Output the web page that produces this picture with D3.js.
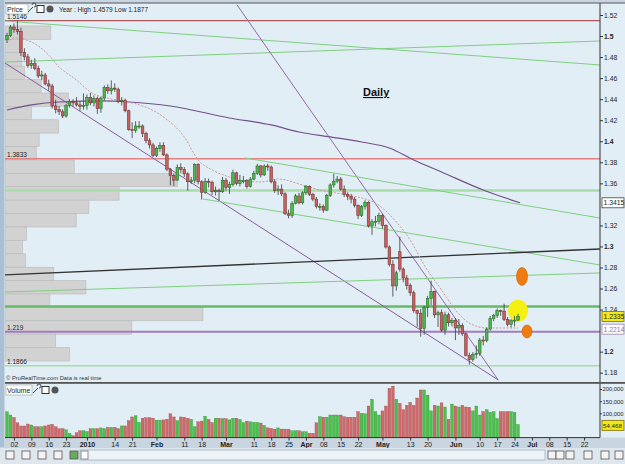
<!DOCTYPE html>
<html>
<head>
<meta charset="utf-8">
<script src="https://cdn.jsdelivr.net/npm/d3@7"></script>
<style>
body { margin: 0; background: #fff; }
svg { display: block; font-family: "Liberation Sans", Arial, sans-serif; }
</style>
</head>
<body>
<div class="chart"></div>
<script>
//Width and height
var w = 625;
var h = 464;

//Daily candles, Nov 30 2009 - Jun 25 2010 (index = trading day)
var opens = [1.4965,1.5005,1.5085,1.5062,1.5045,1.4845,1.4802,1.4720,1.4740,1.4690,1.4620,1.4630,1.4545,1.4525,1.4335,1.4300,1.4280,1.4240,1.4340,1.4375,
  1.4365,1.4345,1.4330,1.4340,1.4415,1.4365,1.4405,1.4310,1.4410,1.4510,1.4480,1.4505,1.4495,1.4380,1.4390,1.4290,1.4110,1.4105,1.4145,1.4145,
  1.4075,1.4005,1.3965,1.3865,1.3930,1.3960,1.3870,1.3735,1.3675,1.3630,1.3750,1.3730,1.3690,1.3615,1.3630,1.3780,1.3615,1.3515,1.3620,1.3610,
  1.3520,1.3530,1.3520,1.3630,1.3560,1.3590,1.3700,1.3600,1.3625,1.3625,1.3570,1.3640,1.3695,1.3765,1.3680,1.3765,1.3755,1.3615,1.3530,1.3545,
  1.3500,1.3310,1.3295,1.3410,1.3480,1.3415,1.3510,1.3570,1.3495,1.3450,1.3380,1.3380,1.3345,1.3485,1.3585,1.3620,1.3640,1.3545,1.3495,1.3475,
  1.3450,1.3390,1.3295,1.3380,1.3420,1.3195,1.3235,1.3240,1.3295,1.3200,1.2995,1.2830,1.2625,1.2950,1.2785,1.2700,1.2630,1.2560,1.2390,1.2365,
  1.2220,1.2420,1.2505,1.2570,1.2350,1.2370,1.2205,1.2350,1.2275,1.2295,1.2225,1.2250,1.2170,1.1965,1.1925,1.1975,1.1985,1.2110,1.2105,1.2215,
  1.2315,1.2345,1.2390,1.2385,1.2305,1.2260,1.2295,1.2300];
var highs = [1.5030,1.5105,1.5120,1.5146,1.5080,1.4885,1.4830,1.4775,1.4790,1.4720,1.4670,1.4650,1.4585,1.4545,1.4395,1.4335,1.4305,1.4355,1.4400,1.4400,
  1.4420,1.4380,1.4455,1.4445,1.4460,1.4435,1.4425,1.4420,1.4530,1.4540,1.4579,1.4550,1.4510,1.4420,1.4405,1.4300,1.4180,1.4190,1.4190,1.4160,
  1.4090,1.4030,1.3985,1.3950,1.3990,1.3990,1.3885,1.3745,1.3690,1.3780,1.3790,1.3755,1.3705,1.3660,1.3790,1.3790,1.3630,1.3650,1.3645,1.3625,
  1.3570,1.3550,1.3660,1.3650,1.3615,1.3730,1.3710,1.3680,1.3670,1.3640,1.3660,1.3720,1.3785,1.3775,1.3780,1.3786,1.3770,1.3640,1.3580,1.3590,
  1.3515,1.3350,1.3430,1.3500,1.3510,1.3525,1.3585,1.3580,1.3510,1.3470,1.3410,1.3400,1.3500,1.3600,1.3692,1.3670,1.3660,1.3580,1.3515,1.3500,
  1.3470,1.3400,1.3395,1.3440,1.3430,1.3260,1.3290,1.3320,1.3310,1.3210,1.3010,1.2870,1.2770,1.3094,1.2800,1.2730,1.2650,1.2580,1.2400,1.2405,
  1.2435,1.2530,1.2675,1.2580,1.2390,1.2400,1.2380,1.2370,1.2320,1.2320,1.2310,1.2270,1.2180,1.1990,1.1995,1.2060,1.2130,1.2150,1.2230,1.2340,
  1.2360,1.2410,1.2400,1.2456,1.2330,1.2310,1.2340,1.2360];
var lows = [1.4935,1.4990,1.5030,1.5015,1.4810,1.4770,1.4700,1.4690,1.4675,1.4600,1.4580,1.4530,1.4480,1.4310,1.4265,1.4250,1.4220,1.4225,1.4320,1.4330,
  1.4330,1.4290,1.4300,1.4300,1.4340,1.4330,1.4260,1.4270,1.4385,1.4450,1.4445,1.4470,1.4360,1.4340,1.4275,1.4100,1.4030,1.4080,1.4120,1.4040,
  1.3980,1.3930,1.3850,1.3850,1.3900,1.3860,1.3715,1.3580,1.3575,1.3625,1.3695,1.3660,1.3530,1.3595,1.3600,1.3590,1.3445,1.3500,1.3560,1.3490,
  1.3485,1.3435,1.3510,1.3530,1.3500,1.3570,1.3580,1.3570,1.3600,1.3550,1.3560,1.3630,1.3680,1.3655,1.3670,1.3720,1.3600,1.3510,1.3490,1.3480,
  1.3300,1.3267,1.3270,1.3400,1.3400,1.3400,1.3490,1.3480,1.3430,1.3360,1.3340,1.3320,1.3335,1.3470,1.3560,1.3600,1.3530,1.3470,1.3440,1.3410,
  1.3370,1.3260,1.3280,1.3350,1.3180,1.3110,1.3190,1.3210,1.3170,1.2980,1.2810,1.2523,1.2580,1.2760,1.2660,1.2590,1.2530,1.2370,1.2235,1.2143,
  1.2160,1.2330,1.2440,1.2320,1.2235,1.2190,1.2160,1.2240,1.2240,1.2110,1.2160,1.2150,1.1955,1.1877,1.1905,1.1935,1.1960,1.2060,1.2090,1.2200,
  1.2290,1.2320,1.2340,1.2290,1.2240,1.2230,1.2240,1.2290];
var closes = [1.5005,1.5085,1.5062,1.5045,1.4845,1.4802,1.4720,1.4740,1.4690,1.4620,1.4630,1.4545,1.4525,1.4335,1.4300,1.4280,1.4240,1.4340,1.4375,1.4365,
  1.4345,1.4330,1.4340,1.4415,1.4365,1.4405,1.4310,1.4410,1.4510,1.4480,1.4505,1.4495,1.4380,1.4390,1.4290,1.4110,1.4105,1.4145,1.4145,1.4075,
  1.4005,1.3965,1.3865,1.3930,1.3960,1.3870,1.3735,1.3675,1.3630,1.3750,1.3730,1.3690,1.3615,1.3630,1.3780,1.3615,1.3515,1.3620,1.3610,1.3520,
  1.3530,1.3520,1.3630,1.3560,1.3590,1.3700,1.3600,1.3625,1.3625,1.3570,1.3640,1.3695,1.3765,1.3680,1.3765,1.3755,1.3615,1.3530,1.3545,1.3500,
  1.3310,1.3295,1.3410,1.3480,1.3415,1.3510,1.3570,1.3495,1.3450,1.3380,1.3380,1.3345,1.3485,1.3585,1.3620,1.3640,1.3545,1.3495,1.3475,1.3450,
  1.3390,1.3295,1.3380,1.3420,1.3195,1.3235,1.3240,1.3295,1.3200,1.2995,1.2830,1.2625,1.2750,1.2785,1.2700,1.2630,1.2560,1.2390,1.2365,1.2220,
  1.2420,1.2505,1.2570,1.2350,1.2370,1.2205,1.2350,1.2275,1.2295,1.2225,1.2250,1.2170,1.1965,1.1925,1.1975,1.1985,1.2110,1.2105,1.2215,1.2315,
  1.2345,1.2390,1.2385,1.2305,1.2260,1.2295,1.2300,1.2335];

//Volume, thousands
var volumes = [106,93,83,61,48,48,56,52,45,45,45,48,52,55,45,37,37,32,18,8,
  20,28,28,25,37,37,37,40,37,42,42,42,37,48,48,70,85,90,63,80,
  82,82,80,72,72,73,76,98,85,70,85,84,80,75,45,65,68,88,75,62,
  80,80,78,78,73,80,80,75,62,68,65,63,63,60,50,40,38,35,40,35,
  35,35,28,28,28,24,24,18,18,61,86,84,84,93,93,93,93,86,84,84,
  84,107,100,98,130,158,107,93,110,130,203,212,158,141,115,133,145,133,163,196,
  196,175,110,133,130,143,126,75,138,130,126,133,126,125,110,130,93,107,115,104,
  107,79,107,107,107,107,104,54.468];

//Moving averages (day index, price)
var maShortIdx = [0,2,7,12,15,20,24,30,35,45,51,55,59,64,68,73,78,85,90,98,102,106,112,116,120,125,129,133,138,147];
var maShortVal = [1.4934,1.4982,1.4944,1.4820,1.4706,1.4582,1.4468,1.4402,1.4373,1.4231,1.4041,1.3822,1.3727,1.3660,1.3622,1.3613,1.3641,1.3584,1.3537,1.3489,1.3461,1.3413,1.3233,1.3061,1.2824,1.2586,1.2396,1.2272,1.2225,1.2225];
var maLongIdx = [0,7,15,27,35,47,64,76,84,93,102,110,117,125,137,147.6];
var maLongVal = [1.4297,1.4345,1.4373,1.4383,1.4373,1.4335,1.4221,1.4155,1.4088,1.4041,1.3993,1.3936,1.3822,1.3708,1.3537,1.3415];

//Volume profile (price bins top to bottom)
var profileTop = 1.5096;
var profileBottom = 1.1911;
var profileVolumes = [47,17,17,20,37,65,27,55,35,32,71,177,117,86,73,22,18,21,50,83,46,203,130,52,66];

//Drawn lines: [index1, price1, index2, price2]
var trendLines = [
  [-0.6, 1.5143, 170.6, 1.4725],
  [-0.6, 1.4753, 170.6, 1.4953],
  [66.2, 1.5295, 141.3, 1.1731],
  [-0.6, 1.4744, 141.3, 1.1731],
  [68.5, 1.3841, 170.6, 1.3270],
  [56.4, 1.3451, 170.6, 1.2824],
  [-0.6, 1.2729, 170.6, 1.2976],
  [-0.6, 1.2567, 170.6, 1.2748]
];
var trendColors = ["#7fcf7f", "#7fcf7f", "#9868a8", "#8a5a9e", "#7fcf7f", "#7fcf7f", "#333333", "#7fcf7f"];

var hLines = [1.5146, 1.3833, 1.3532, 1.2430, 1.2190, 1.1866];
var hLineColors = ["#b05858", "#e48080", "#a8dca8", "#64bc64", "#a27cbe", "#a8dca8"];
var hLineWidths = [1.2, 1.5, 2.5, 2.5, 2, 1.5];
var hLineTags = ["1.5146", "1.3833", "", "", "1.219", "1.1866"];

//Axis ticks
var priceTicks = [1.18, 1.2, 1.24, 1.26, 1.28, 1.3, 1.32, 1.36, 1.38, 1.4, 1.42, 1.44, 1.46, 1.48, 1.5, 1.52];
var volTicks = [100000, 150000, 200000];
var xTickIdx = [2,7,12,17,23,31,36,43,51,56,63,71,76,81,86,91,96,101,108,116,121,129,136,141,146,151,156,161,166];
var xTickLabels = ["02","09","16","23","2010","14","21","Feb","11","18","Mar","11","18","25","Apr","08","15","22","May","13","20","Jun","10","17","24","Jul","08","15","22"];
var monthLabels = ["2010","Feb","Mar","Apr","May","Jun","Jul"];

//Create SVG element
var svg = d3.select(".chart")
    .append("svg")
    .attr("width", w)
    .attr("height", h);

var left = 5, right = 600;
var priceTop = 3, priceBottom = 382;
var volTop = 384, volBottom = 437.6;

svg.append("rect").attr("width", w).attr("height", h).attr("fill", "#c9d5e0");
svg.append("rect").attr("x", left).attr("y", priceTop).attr("width", w - left).attr("height", volBottom - priceTop)
    .attr("fill", "#e2eef6");
svg.append("rect").attr("x", 0).attr("y", 0).attr("width", 4).attr("height", 447).attr("fill", "#a9bfd6");

//Scales
var xScale = d3.scaleLinear().domain([0, 147]).range([7, 518]);
var yScale = d3.scaleLinear().domain([1.18, 1.52]).range([372.7, 15]);
var vScale = d3.scaleLinear().domain([0, 200]).range([volBottom, 389]);

svg.append("clipPath").attr("id", "clipPrice")
    .append("rect").attr("x", left).attr("y", priceTop + 1).attr("width", right - left).attr("height", priceBottom - priceTop - 1);

var price = svg.append("g").attr("clip-path", "url(#clipPrice)");

//Volume profile
var binH = (yScale(profileBottom) - yScale(profileTop)) / profileVolumes.length;
var pScale = d3.scaleLinear().domain([0, d3.max(profileVolumes)]).range([0, 198]);
price.selectAll("rect.profile")
    .data(profileVolumes)
    .enter()
    .append("rect")
    .attr("class", "profile")
    .attr("x", left)
    .attr("y", (d, i) => yScale(profileTop) + i * binH)
    .attr("width", (d) => pScale(d))
    .attr("height", binH)
    .attr("fill", "#d2d2d2")
    .attr("stroke", "#b9b9b9")
    .attr("stroke-width", 0.6);

//Horizontal levels
price.selectAll("line.hline")
    .data(hLines)
    .enter()
    .append("line")
    .attr("x1", left).attr("x2", right)
    .attr("y1", (d) => yScale(d)).attr("y2", (d) => yScale(d))
    .attr("stroke", (d, i) => hLineColors[i])
    .attr("stroke-width", (d, i) => hLineWidths[i]);

svg.selectAll("text.htag")
    .data(hLines)
    .enter()
    .append("text")
    .attr("x", 7)
    .attr("y", (d) => yScale(d) - 2)
    .attr("font-size", 6.5)
    .attr("fill", "#222")
    .text((d, i) => hLineTags[i]);

//Trend lines
price.selectAll("line.trend")
    .data(trendLines)
    .enter()
    .append("line")
    .attr("x1", (d) => xScale(d[0])).attr("y1", (d) => yScale(d[1]))
    .attr("x2", (d) => xScale(d[2])).attr("y2", (d) => yScale(d[3]))
    .attr("stroke", (d, i) => trendColors[i])
    .attr("stroke-width", (d, i) => i == 6 ? 1.3 : 1);

//Moving averages
var maLong = maLongIdx.map((d, i) => [d, maLongVal[i]]);
var maShort = maShortIdx.map((d, i) => [d, maShortVal[i]]);
var line = d3.line().x((d) => xScale(d[0])).y((d) => yScale(d[1])).curve(d3.curveMonotoneX);
price.append("path").attr("d", line(maLong)).attr("fill", "none").attr("stroke", "#74508a").attr("stroke-width", 1.2);
price.append("path").attr("d", line(maShort)).attr("fill", "none").attr("stroke", "#c89a9a")
    .attr("stroke-width", 1).attr("stroke-dasharray", "2,1.5");

//Marker circles
price.append("ellipse").attr("cx", 518).attr("cy", yScale(1.2390)).attr("rx", 10).attr("ry", 11).attr("fill", "#f4f014");
price.append("ellipse").attr("cx", 522).attr("cy", yScale(1.2715)).attr("rx", 5.5).attr("ry", 9)
    .attr("fill", "#f07c10").attr("stroke", "#c86000").attr("stroke-width", 0.6);
price.append("ellipse").attr("cx", 527).attr("cy", yScale(1.2192)).attr("rx", 5).attr("ry", 6.5)
    .attr("fill", "#f07c10").attr("stroke", "#c86000").attr("stroke-width", 0.6);

//Candles
var days = d3.range(closes.length);
price.selectAll("line.wick")
    .data(days)
    .enter()
    .append("line")
    .attr("x1", (i) => xScale(i)).attr("x2", (i) => xScale(i))
    .attr("y1", (i) => yScale(highs[i])).attr("y2", (i) => yScale(lows[i]))
    .attr("stroke", "#3a3a3a").attr("stroke-width", 0.8);
price.selectAll("rect.body")
    .data(days)
    .enter()
    .append("rect")
    .attr("x", (i) => xScale(i) - 1.3)
    .attr("y", (i) => yScale(Math.max(opens[i], closes[i])))
    .attr("width", 2.6)
    .attr("height", (i) => Math.max(1, Math.abs(yScale(opens[i]) - yScale(closes[i]))))
    .attr("fill", (i) => closes[i] >= opens[i] ? "#4cb84c" : "#c86262")
    .attr("stroke", (i) => closes[i] >= opens[i] ? "#2b6f2b" : "#7a3434")
    .attr("stroke-width", 0.6);

//Daily label
svg.append("text").attr("x", 363).attr("y", 96).attr("font-size", 11).attr("font-weight", "bold")
    .attr("text-decoration", "underline").attr("fill", "#111").text("Daily");

//Price axis
svg.append("line").attr("x1", right).attr("x2", right).attr("y1", priceTop).attr("y2", volBottom).attr("stroke", "#333");
var yAxis = d3.axisRight(yScale).tickValues(priceTicks).tickSize(3)
    .tickFormat((d) => Math.abs(d * 10 - Math.round(d * 10)) < 1e-6 ? d3.format(".1f")(d) : d3.format(".2f")(d));
var ya = svg.append("g").attr("transform", "translate(" + right + ",0)").call(yAxis);
ya.select(".domain").remove();
ya.selectAll("text").attr("font-size", 6.8).attr("fill", "#222").attr("x", 4)
    .attr("font-weight", (d) => Math.abs(d * 10 - Math.round(d * 10)) < 1e-6 ? "bold" : "normal");
ya.selectAll("line").attr("stroke", "#333");

//Last value tags
function tag(y, txt, fill, stroke, color) {
    svg.append("rect").attr("x", 602).attr("y", y - 5).attr("width", 22).attr("height", 10)
        .attr("fill", fill).attr("stroke", stroke).attr("stroke-width", 0.8);
    svg.append("text").attr("x", 603.5).attr("y", y + 2.5).attr("font-size", 6.8).attr("fill", color).text(txt);
}
tag(yScale(1.3415), "1.3415", "#ffffff", "#444", "#222");
tag(yScale(closes[closes.length - 1]), "1.2335", "#f4e81c", "#807000", "#222");
tag(yScale(1.2214), "1.2214", "#ffffff", "#9a80b0", "#8a70a8");

//Header
svg.append("line").attr("x1", left).attr("x2", w).attr("y1", priceTop).attr("y2", priceTop).attr("stroke", "#555");
svg.append("rect").attr("x", left + 1).attr("y", priceTop + 1).attr("width", 22).attr("height", 10)
    .attr("fill", "#fff").attr("stroke", "#999").attr("stroke-width", 0.6);
svg.append("text").attr("x", left + 2).attr("y", priceTop + 9).attr("font-size", 7).attr("fill", "#222").text("Price");
svg.append("text").attr("x", 59).attr("y", priceTop + 8.5).attr("font-size", 6.5).attr("fill", "#222")
    .text("Year : High 1.4579 Low 1.1877");
function icons(x, y) {
    svg.append("path").attr("d", "M" + x + "," + (y + 8) + "l5,-5m-1,-2a2,2 0 1,1 2,2").attr("stroke", "#444").attr("fill", "none");
    svg.append("rect").attr("x", x + 9).attr("y", y + 1.5).attr("width", 7).attr("height", 7)
        .attr("fill", "#fff").attr("stroke", "#333");
    svg.append("circle").attr("cx", x + 22).attr("cy", y + 5).attr("r", 3.5).attr("fill", "#555");
}
icons(28, priceTop + 1);

//Copyright
svg.append("text").attr("x", 6).attr("y", 380).attr("font-size", 5.8).attr("fill", "#333")
    .text("\u00a9 ProRealTime.com Data is real time");

//Panel separator
svg.append("rect").attr("x", left).attr("y", priceBottom).attr("width", w - left).attr("height", 1.8).attr("fill", "#555");

//Volume bars
svg.selectAll("rect.vol")
    .data(days)
    .enter()
    .append("rect")
    .attr("x", (i) => xScale(i) - 1.4)
    .attr("y", (i) => vScale(volumes[i]))
    .attr("width", 2.8)
    .attr("height", (i) => volBottom - vScale(volumes[i]))
    .attr("fill", (i) => closes[i] >= opens[i] ? "#4cc04c" : "#d06a6a")
    .attr("stroke", (i) => closes[i] >= opens[i] ? "#2f8a2f" : "#9a4444")
    .attr("stroke-width", 0.3);

svg.append("rect").attr("x", left + 1).attr("y", volTop + 1).attr("width", 26).attr("height", 10)
    .attr("fill", "#fff").attr("stroke", "#999").attr("stroke-width", 0.6);
svg.append("text").attr("x", left + 2).attr("y", volTop + 9).attr("font-size", 7).attr("fill", "#222").text("Volume");
icons(33, volTop + 1);

var vAxis = d3.axisRight(d3.scaleLinear().domain([0, 200000]).range([volBottom, 389]))
    .tickValues(volTicks).tickSize(2).tickFormat(d3.format(","));
var va = svg.append("g").attr("transform", "translate(" + right + ",0)").call(vAxis);
va.select(".domain").remove();
va.selectAll("text").attr("font-size", 5.8).attr("fill", "#222").attr("x", 2.5);
va.selectAll("line").attr("stroke", "#333");
svg.append("rect").attr("x", 602).attr("y", vScale(volumes[volumes.length - 1]) - 4).attr("width", 22).attr("height", 10)
    .attr("fill", "#f4e81c").attr("stroke", "#807000").attr("stroke-width", 0.8);
svg.append("text").attr("x", 603).attr("y", vScale(volumes[volumes.length - 1]) + 3.5).attr("font-size", 6.2)
    .attr("fill", "#222").text("54,468");

//X axis
svg.append("line").attr("x1", left).attr("x2", right).attr("y1", volBottom).attr("y2", volBottom).attr("stroke", "#333");
var xAxis = d3.axisBottom(xScale).tickValues(xTickIdx).tickSize(3)
    .tickFormat((d, i) => xTickLabels[i]);
var xa = svg.append("g").attr("transform", "translate(0," + volBottom + ")").call(xAxis);
xa.select(".domain").remove();
xa.selectAll("text").attr("font-size", 7).attr("fill", "#222").attr("dy", "0.5em")
    .attr("font-weight", (d, i) => monthLabels.indexOf(xTickLabels[i]) >= 0 ? "bold" : "normal");
xa.selectAll("line").attr("stroke", "#333");

//Bottom toolbar
svg.append("rect").attr("x", 0).attr("y", 448).attr("width", w).attr("height", 16).attr("fill", "#dfe7ee");
svg.append("rect").attr("x", 80).attr("y", 450).attr("width", 465).attr("height", 10)
    .attr("fill", "#eef3f7").attr("stroke", "#9fb0c0").attr("stroke-width", 0.8);
svg.append("rect").attr("x", 81).attr("y", 451).attr("width", 7).attr("height", 8).attr("fill", "#fff").attr("stroke", "#889");
var toolX = [6, 22, 38, 54, 70, 548, 556, 566, 584, 601, 615];
svg.selectAll("rect.tool")
    .data(toolX)
    .enter()
    .append("rect")
    .attr("x", (d) => d).attr("y", 451).attr("width", 8).attr("height", 8)
    .attr("fill", (d, i) => i == 4 ? "#6aa860" : "#f4f4f4")
    .attr("stroke", "#555").attr("stroke-width", 0.8);
</script>
</body>
</html>
